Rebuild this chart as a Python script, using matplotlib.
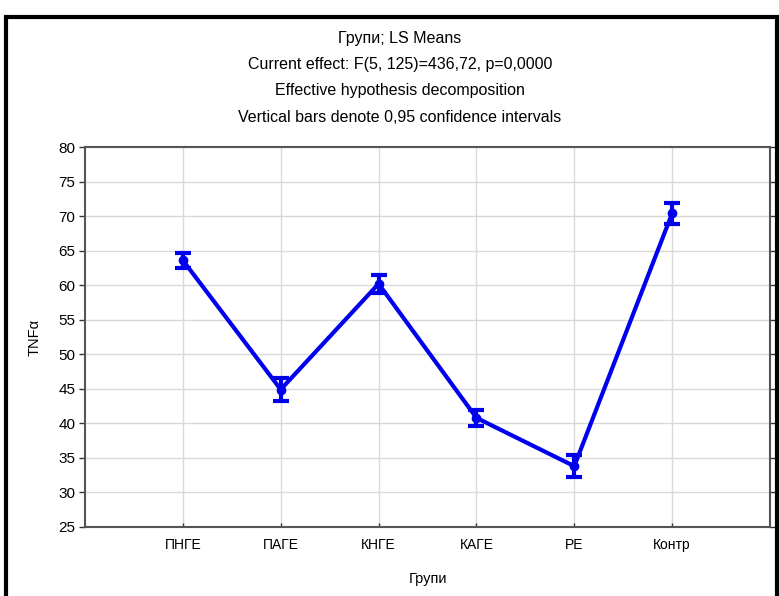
import matplotlib
matplotlib.use("Agg")
import matplotlib.pyplot as plt
from matplotlib.patches import Rectangle

categories = ["ПНГЕ", "ПАГЕ", "КНГЕ", "КАГЕ", "РЕ", "Контр"]
means = [63.6, 44.9, 60.2, 40.8, 33.8, 70.4]
ci_half = [1.1, 1.6, 1.3, 1.15, 1.6, 1.5]
yticks = [25, 30, 35, 40, 45, 50, 55, 60, 65, 70, 75, 80]
titles = ["Групи; LS Means",
          "Current effect: F(5, 125)=436,72, p=0,0000",
          "Effective hypothesis decomposition",
          "Vertical bars denote 0,95 confidence intervals"]

plt.rcParams['font.family'] = ['Liberation Sans', 'DejaVu Sans']

W, H = 779, 596
fig = plt.figure(figsize=(W/100, H/100), dpi=100)
ax = fig.add_axes([85/W, 1-527/H, (770-85)/W, (527-147)/H])

x = list(range(1, len(categories)+1))
ax.errorbar(x, means, yerr=ci_half, color='#0000ee', lw=3, marker='o', ms=6,
            capsize=6, capthick=3, elinewidth=3, zorder=3)

ax.set_xlim(0, 7)
ax.set_ylim(25, 80)
ax.set_yticks(yticks)
ax.set_xticks(x)
ax.set_xticklabels(categories, fontsize=10)
ax.tick_params(axis='y', labelsize=11, direction='out', length=4, width=1, color='#333333', pad=3)
ax.tick_params(axis='x', direction='in', length=3, width=1, color='#333333', pad=8)
ax.tick_params(axis='y', which='both', right=True)
ax.grid(True, color='#d9d9d9', lw=1)
ax.set_axisbelow(True)
for s in ax.spines.values():
    s.set_color('#555555')
    s.set_linewidth(1.5)
ax.set_xlabel("Групи", fontsize=10.5, labelpad=14)
ax.set_ylabel("TNFα", fontsize=10.5, labelpad=12)

ys = [38, 64, 90, 117]
for t, yy in zip(titles, ys):
    fig.text(400/W, 1-yy/H, t, ha='center', va='center', fontsize=11.5)

fig.patches.append(Rectangle((6/W, -0.05), (777-6)/W, 1.05-17/H, transform=fig.transFigure,
                             fill=False, edgecolor='black', lw=3))

fig.savefig("out.png", dpi=100)
